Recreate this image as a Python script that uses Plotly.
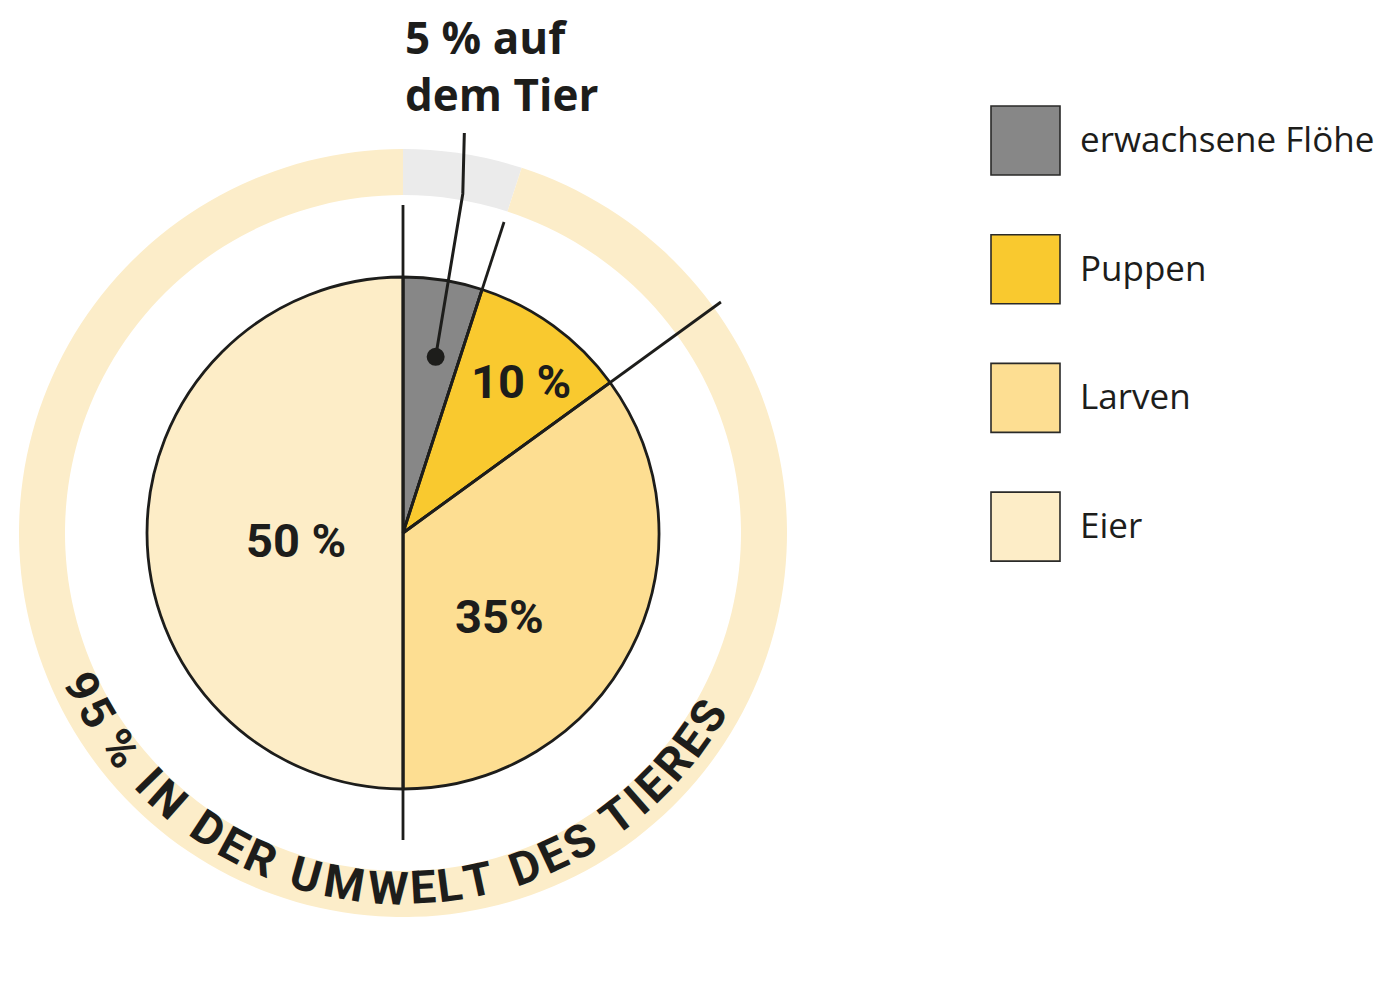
import math
import plotly.graph_objects as go

# ---------------- data ----------------
labels = ["erwachsene Flöhe", "Puppen", "Larven", "Eier"]
values = [5, 10, 35, 50]
colors = ["#878787", "#F9C92F", "#FDDE92", "#FDEDC7"]
slice_texts = ["", "10 %", "35%", "50 %"]

ring_labels = ["auf dem Tier", "in der Umwelt des Tieres"]
ring_values = [5, 95]
ring_colors = ["#EBEBEB", "#FCEDC9"]

callout_text = "5 % auf<br>dem Tier"
ring_text = "95\u2009% IN DER UMWELT DES TIERES"

# ---------------- layout constants (px, page coordinates) ----------------
W, H = 1382, 993
OFF = 8                    # page body margin of the html output
CX, CY = 403 - OFF, 533 - OFF   # pie centre inside the figure
R = 256                    # pie radius
RING_OUT, RING_IN = 384, 338
INK = "#1d1d1b"
SANS = "Open Sans"
NUM = "Roboto"

x_range = [-CX / R, (W - CX) / R]
y_range = [-(H - CY) / R, CY / R]

def polar(r_frac, ang_deg):
    """angle clockwise from 12 o'clock -> data coords (unit = pie radius)"""
    a = math.radians(ang_deg)
    return r_frac * math.sin(a), r_frac * math.cos(a)

total = sum(values)
cum = [0]
for v in values:
    cum.append(cum[-1] + v)
angles = [c / total * 360 for c in cum]
mids = [(angles[i] + angles[i + 1]) / 2 for i in range(len(values))]

fig = go.Figure()

fig.add_trace(go.Scatter(x=x_range, y=y_range, mode="markers",
                         marker=dict(opacity=0), hoverinfo="skip", showlegend=False))

# background ring (donut)
fig.add_trace(go.Pie(
    labels=ring_labels, values=ring_values, sort=False, direction="clockwise",
    rotation=0, hole=RING_IN / RING_OUT,
    marker=dict(colors=ring_colors, line=dict(width=0)),
    textinfo="none", hoverinfo="skip", showlegend=False,
    domain=dict(x=[(CX - RING_OUT) / W, (CX + RING_OUT) / W],
                y=[(H - CY - RING_OUT) / H, (H - CY + RING_OUT) / H]),
))

# main pie
fig.add_trace(go.Pie(
    labels=labels, values=values, sort=False, direction="clockwise", rotation=0,
    marker=dict(colors=colors, line=dict(color=INK, width=2.8)),
    textinfo="none", hoverinfo="skip", showlegend=False,
    domain=dict(x=[(CX - R) / W, (CX + R) / W],
                y=[(H - CY - R) / H, (H - CY + R) / H]),
))

shapes = []
annotations = []

# extended slice boundary lines (boundary index -> extension radius in px)
boundary_ext = {0: 328, 1: 327, 2: 393, 3: 307}
for i, ext in boundary_ext.items():
    x1, y1 = polar(ext / R, angles[i])
    shapes.append(dict(type="line", xref="x", yref="y", x0=0, y0=0, x1=x1, y1=y1,
                       line=dict(color=INK, width=2.8), layer="above"))

# callout leader for the first slice
dx, dy = polar(0.70, mids[0] + 1.5)
bx, by = polar(1.345, mids[0] + 1.0)
top_y = (CY - (133 - OFF)) / R
shapes.append(dict(type="path", xref="x", yref="y",
                   path=f"M {dx} {dy} L {bx} {by} L {bx + 0.006} {top_y}",
                   line=dict(color=INK, width=3), layer="above"))
dr = 9 / R
shapes.append(dict(type="circle", xref="x", yref="y", x0=dx - dr, x1=dx + dr,
                   y0=dy - dr, y1=dy + dr, fillcolor=INK, line=dict(width=0),
                   layer="above"))
annotations.append(dict(x=CX / W, y=1 + 3 / H, xref="paper", yref="paper",
                        text=callout_text, showarrow=False, xanchor="left",
                        yanchor="top", align="left",
                        font=dict(family=SANS, size=44, color=INK, weight="bold")))

# slice value labels (radius fraction, angle offset from slice middle)
label_pos = [None, (0.75, 2), (0.50, 14), (0.42, -4)]
for i, t in enumerate(slice_texts):
    if not t:
        continue
    rf, off = label_pos[i]
    lx, ly = polar(rf, mids[i] + off)
    annotations.append(dict(x=lx, y=ly, xref="x", yref="y", text=t, showarrow=False,
                            xanchor="center", yanchor="middle",
                            font=dict(family=NUM, size=47, color=INK, weight="bold")))

# curved ring text along the bottom arc
char_w = {" ": .249, "\u2009": .12, "9": .5615, "5": .5615, "%": .73, "I": .282,
          "N": .697, "D": .656, "E": .494, "R": .623, "U": .651, "M": .863,
          "W": .867, "L": .481, "T": .61, "S": .598}
FS, TRACK, R_TXT = 46, 4.0, 355
widths = [char_w.get(c, .6) * FS for c in ring_text]
pos = []
s = 0.0
for w in widths:
    pos.append(s + w / 2)
    s += w + TRACK
start_a = -64.5
a0 = start_a - math.degrees(pos[0] / R_TXT)
for c, p in zip(ring_text, pos):
    if c.strip() == "":
        continue
    a = a0 + math.degrees(p / R_TXT)          # 0 = straight down, positive = right
    ar = math.radians(a)
    x = R_TXT * math.sin(ar) / R
    y = -R_TXT * math.cos(ar) / R
    annotations.append(dict(x=x, y=y, xref="x", yref="y", text=c, showarrow=False,
                            textangle=-a, xanchor="center", yanchor="middle",
                            font=dict(family=NUM, size=FS, color=INK, weight="bold")))

# custom legend (page px)
LEG_X, LEG_Y0, LEG_STEP, BOX = 991 - OFF, 106 - OFF, 128.7, 69
for i, (lab, col) in enumerate(zip(labels, colors)):
    top = LEG_Y0 + i * LEG_STEP
    shapes.append(dict(type="rect", xref="paper", yref="paper",
                       x0=LEG_X / W, x1=(LEG_X + BOX) / W,
                       y0=1 - (top + BOX) / H, y1=1 - top / H,
                       fillcolor=col, line=dict(color="#2a2a28", width=1.6)))
    annotations.append(dict(x=(LEG_X + BOX + 18) / W, y=1 - (top + BOX / 2 - 2) / H,
                            xref="paper", yref="paper", text=lab, showarrow=False,
                            xanchor="left", yanchor="middle",
                            font=dict(family=SANS, size=35, color=INK)))

fig.update_layout(
    width=W, height=H, margin=dict(l=0, r=0, t=0, b=0),
    paper_bgcolor="white", plot_bgcolor="white",
    xaxis=dict(range=x_range, visible=False, fixedrange=True, domain=[0, 1]),
    yaxis=dict(range=y_range, visible=False, fixedrange=True, domain=[0, 1]),
    shapes=shapes, annotations=annotations, showlegend=False,
)

fig.write_html("out.html")
